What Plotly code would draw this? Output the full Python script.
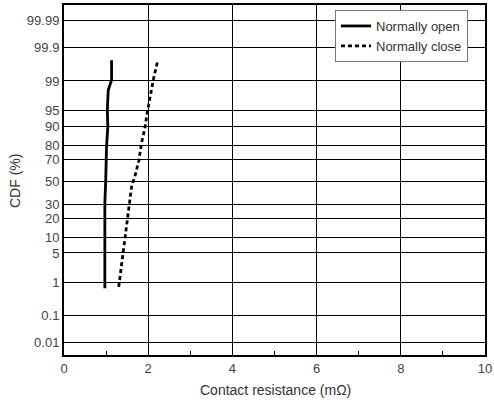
import plotly.graph_objects as go
from statistics import NormalDist

nd = NormalDist()

# Normally open (solid)
open_x = [0.97, 0.97, 0.97, 0.97, 0.99, 1.00, 1.01, 1.04, 1.03, 1.05, 1.13, 1.13]
open_p = [0.70, 2.05, 10.1, 31.0, 50.0, 69.0, 78.9, 89.7, 95.06, 98.27, 99.05, 99.75]

# Normally close (dotted)
close_x = [1.30, 1.33, 1.38, 1.43, 1.49, 1.55, 1.61, 1.68, 1.78, 1.84, 1.92, 1.98, 2.04, 2.12, 2.22]
close_p = [0.76, 1.39, 3.5, 8.2, 18.7, 32.0, 46.8, 54.4, 69.0, 81.3, 89.2, 94.65, 97.5, 99.05, 99.72]

y_ticks = [0.01, 0.1, 1, 5, 10, 20, 30, 50, 70, 80, 90, 95, 99, 99.9, 99.99]
y_tick_text = ["0.01", "0.1", "1", "5", "10", "20", "30", "50", "70", "80", "90", "95", "99", "99.9", "99.99"]


def probit(p):
    return nd.inv_cdf(p / 100.0)


fig = go.Figure()
fig.add_trace(go.Scatter(
    x=open_x, y=[probit(p) for p in open_p], mode="lines", name="Normally open",
    line=dict(color="black", width=2.8),
))
fig.add_trace(go.Scatter(
    x=close_x, y=[probit(p) for p in close_p], mode="lines", name="Normally close",
    line=dict(color="black", width=2.8, dash="4px,3px"),
))

font_fam = "Liberation Sans, Arial, sans-serif"

L, R, T, B = 64, 9, 5, 52
W, H = 494, 407
pw, ph = W - L - R, H - T - B

fig.update_layout(
    width=W, height=H, autosize=False,
    margin=dict(l=L, r=R, t=T, b=B, autoexpand=False),
    paper_bgcolor="white", plot_bgcolor="white",
    font=dict(family=font_fam, size=13, color="#333"),
    showlegend=True,
    legend=dict(
        x=(335 - L) / pw, y=1 - (10 - T) / ph, xanchor="left", yanchor="top",
        bgcolor="white", bordercolor="#777", borderwidth=1,
        font=dict(size=13, color="#333"),
        tracegroupgap=0, itemwidth=30,
    ),
    xaxis=dict(
        range=[0, 10], tickvals=[0, 2, 4, 6, 8, 10],
        showgrid=True, gridcolor="black", gridwidth=1,
        showline=True, linecolor="black", linewidth=2, mirror=True,
        ticks="", zeroline=False, automargin=False,
        minor=dict(tickvals=[1, 3, 5, 7, 9], ticks="inside", ticklen=4, tickcolor="black", tickwidth=1, showgrid=False),
        tickfont=dict(size=13, color="#444"),
    ),
    yaxis=dict(
        range=[-4.0, 4.08],
        tickvals=[probit(p) for p in y_ticks], ticktext=y_tick_text,
        showgrid=True, gridcolor="black", gridwidth=1,
        showline=True, linecolor="black", linewidth=2, mirror=True,
        ticks="", zeroline=False, automargin=False,
        tickfont=dict(size=13, color="#444"),
    ),
    annotations=[
        dict(text="Contact resistance (m\u03a9)", xref="paper", yref="paper",
             x=(275 - L) / pw, y=1 - (390 - T) / ph, xanchor="center", yanchor="middle",
             showarrow=False, font=dict(size=14, color="#333")),
        dict(text="CDF (%)", xref="paper", yref="paper", textangle=-90,
             x=(15 - L) / pw, y=1 - (181 - T) / ph, xanchor="center", yanchor="middle",
             showarrow=False, font=dict(size=14, color="#333")),
    ],
)

fig.write_html("out.html", config={"displayModeBar": False},
               post_script="document.body.style.margin='0';document.body.style.overflow='hidden';")
